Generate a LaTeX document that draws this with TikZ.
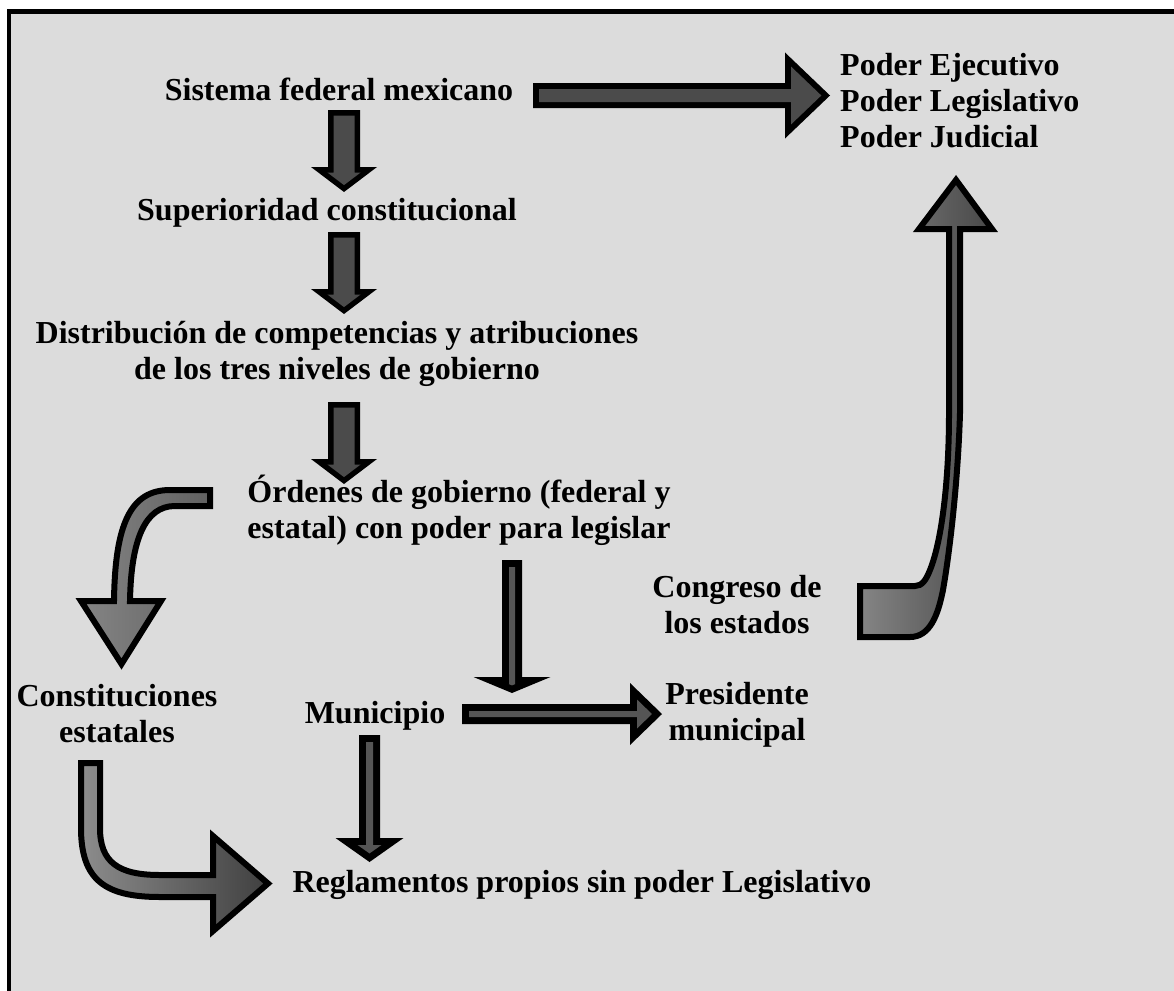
\documentclass[tikz,border=0pt]{standalone}
\usepackage{fontspec}
\setmainfont{Liberation Serif}
\definecolor{panel}{HTML}{DCDCDC}
\definecolor{arrowfill}{HTML}{4B4B4B}
\definecolor{thinfill}{HTML}{555555}

% Straight block arrow: #1 start coordinate, #2 direction angle, #3 shaft length,
% #4 shaft half-width, #5 head half-width, #6 head length, #7 border, #8 fill colour
\newcommand\blockarrow[8]{%
  \begin{scope}[shift={(#1)},rotate=#2]
    \pgfmathsetmacro\bsin{sin(atan2(#5,#6))}
    \pgfmathsetmacro\btip{#3+#6-#7/\bsin}
    \pgfmathsetmacro\bhi{max(0,(#6-#7-#7/\bsin)*#5/#6)}
    \pgfmathsetmacro\bsi{#4-#7}
    \pgfmathsetmacro\bbase{#3+#7}
    \fill[black] (0,-#4) -- (#3,-#4) -- (#3,-#5) -- (#3+#6,0) -- (#3,#5) -- (#3,#4) -- (0,#4) -- cycle;
    \fill[#8] (#7,-\bsi) -- (\bbase,-\bsi) -- (\bbase,-\bhi) -- (\btip,0) -- (\bbase,\bhi) -- (\bbase,\bsi) -- (#7,\bsi) -- cycle;
  \end{scope}}

\begin{document}
\begin{tikzpicture}[x=1pt,y=-1pt,
  lbl/.style={font=\fontsize{32}{36}\selectfont\bfseries, inner sep=0pt, align=center, anchor=base},
  bentarrow/.style={draw=black, line width=6pt, line join=miter, miter limit=10}]
\useasboundingbox (0,0) rectangle (1174,990);

% panel
\draw[line width=4.5pt, fill=panel] (9,11.5) rectangle (1200,1020);

% straight block arrows
\coordinate (a1) at (533,95.5);
\blockarrow{a1}{0}{252}{12.5}{43}{45}{6}{arrowfill}
\coordinate (a2) at (344,110);
\blockarrow{a2}{-90}{57}{16}{33}{25}{5.5}{arrowfill}
\coordinate (a3) at (344,232);
\blockarrow{a3}{-90}{57}{16}{33}{25}{5.5}{arrowfill}
\coordinate (a4) at (344,402);
\blockarrow{a4}{-90}{57}{16}{33}{25}{5.5}{arrowfill}
\coordinate (a5) at (512,560);
\blockarrow{a5}{-90}{117}{10}{38.5}{16}{7}{thinfill}
\coordinate (a6) at (462,714);
\blockarrow{a6}{0}{168}{10}{31}{32}{7}{thinfill}
\coordinate (a7) at (369.5,735);
\blockarrow{a7}{-90}{103}{10.5}{34}{24}{7}{thinfill}

% bent arrow towards the state constitutions
\path[bentarrow, left color=black!48, right color=black!62]
  (210,490) -- (170,490) .. controls (130,490) and (115,525) .. (114,601)
  -- (81,601) -- (121.5,664) -- (161,601) -- (130,601)
  .. controls (131,540) and (145,506) .. (175,506) -- (210,506) -- cycle;

% bent arrow towards the regulations
\path[bentarrow, left color=black!45, right color=black!75]
  (81,763) -- (100,763) -- (100,828) .. controls (100,862) and (118,875) .. (160,875)
  -- (213,875) -- (213,836) -- (268,883.5) -- (213,931) -- (213,897) -- (160,897)
  .. controls (105,897) and (81,880) .. (81,828) -- cycle;

% bent arrow from the state congresses up to the three powers
\path[bentarrow, left color=black!48, right color=black!72]
  (860,637) -- (910,637) .. controls (930,637) and (938,615) .. (943,590)
  .. controls (950,550) and (958,480) .. (960,413) -- (960,229) -- (992,229)
  -- (956,180) -- (919,229) -- (949,229) -- (949,413)
  .. controls (949,480) and (942,540) .. (930,570)
  .. controls (926,580) and (922,586) .. (915,586) -- (860,586) -- cycle;

% labels (multi-line labels sit on the baseline of their last line)
\node[lbl] (sistema) at (339,100) {Sistema federal mexicano};
\node[lbl] (superior) at (327,220) {Superioridad constitucional};
\node[lbl] (distrib) at (337,379) {Distribución de competencias y atribuciones\\de los tres niveles de gobierno};
\node[lbl] (ordenes) at (459,538) {Órdenes de gobierno (federal y\\estatal) con poder para legislar};
\node[lbl] (constit) at (117,742) {Constituciones\\estatales};
\node[lbl] (municipio) at (375,723) {Municipio};
\node[lbl] (presidente) at (737,740) {Presidente\\municipal};
\node[lbl] (congreso) at (737,633) {Congreso de\\los estados};
\node[lbl, align=left, anchor=base west] (poderes) at (840,147) {Poder Ejecutivo\\Poder Legislativo\\Poder Judicial};
\node[lbl] (reglamentos) at (582,892) {Reglamentos propios sin poder Legislativo};
\end{tikzpicture}
\end{document}
